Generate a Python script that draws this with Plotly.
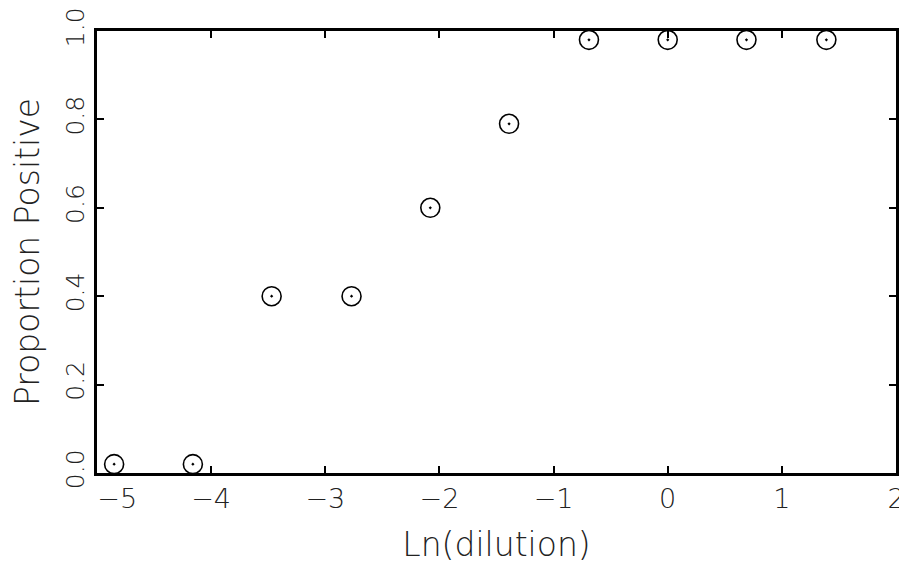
import plotly.graph_objects as go

ln_dilution = [-4.85, -4.16, -3.47, -2.77, -2.08, -1.39, -0.69, 0.0, 0.69, 1.39]
proportion_positive = [0.02, 0.02, 0.40, 0.40, 0.60, 0.79, 0.98, 0.98, 0.98, 0.98]
x_ticks = [-5, -4, -3, -2, -1, 0, 1, 2]
x_tick_labels = ["\u2002\u2002\u2002\u22125", "\u22124", "\u22123", "\u22122", "\u22121", "0", "1", "2"]
y_ticks = [0.0, 0.2, 0.4, 0.6, 0.8, 1.0]
y_tick_labels = ["0.0", "0.2", "0.4", "0.6", "0.8", "1.0"]

fig = go.Figure()
fig.add_trace(go.Scatter(
    x=ln_dilution, y=proportion_positive, mode="markers",
    marker=dict(symbol="circle-open-dot", size=19, color="black", line=dict(width=1.6, color="black")),
    cliponaxis=False, showlegend=False,
))

x_tick_font = dict(family="DejaVu Sans", size=27, color="#222222", weight=200)
y_tick_font = dict(family="DejaVu Sans", size=25, color="#222222", weight=200)
title_font = dict(family="DejaVu Sans", size=33, color="#222222", weight=200)
fig.update_layout(
    width=899, height=565,
    margin=dict(l=89, r=11, t=23, b=100),
    paper_bgcolor="white", plot_bgcolor="white",
    font=x_tick_font,
)
fig.update_xaxes(
    range=[-5, 2], tickvals=x_ticks, ticktext=x_tick_labels,
    ticks="inside", ticklen=7, tickwidth=1.5, tickcolor="black",
    showline=True, linewidth=3, linecolor="black", mirror="ticks",
    showgrid=False, zeroline=False, automargin=False,
    ticklabeloverflow="allow",
    title=dict(text="Ln(dilution)", font=title_font, standoff=20),
    tickfont=x_tick_font,
)
fig.update_yaxes(
    range=[0, 1], tickvals=y_ticks, ticktext=y_tick_labels, tickangle=-90,
    ticks="inside", ticklen=7, tickwidth=1.5, tickcolor="black",
    showline=True, linewidth=3, linecolor="black", mirror="ticks",
    showgrid=False, zeroline=False, automargin=False,
    ticklabeloverflow="allow",
    title=dict(text="Proportion Positive", font=title_font, standoff=18),
    tickfont=y_tick_font,
)
fig.write_html("out.html")
